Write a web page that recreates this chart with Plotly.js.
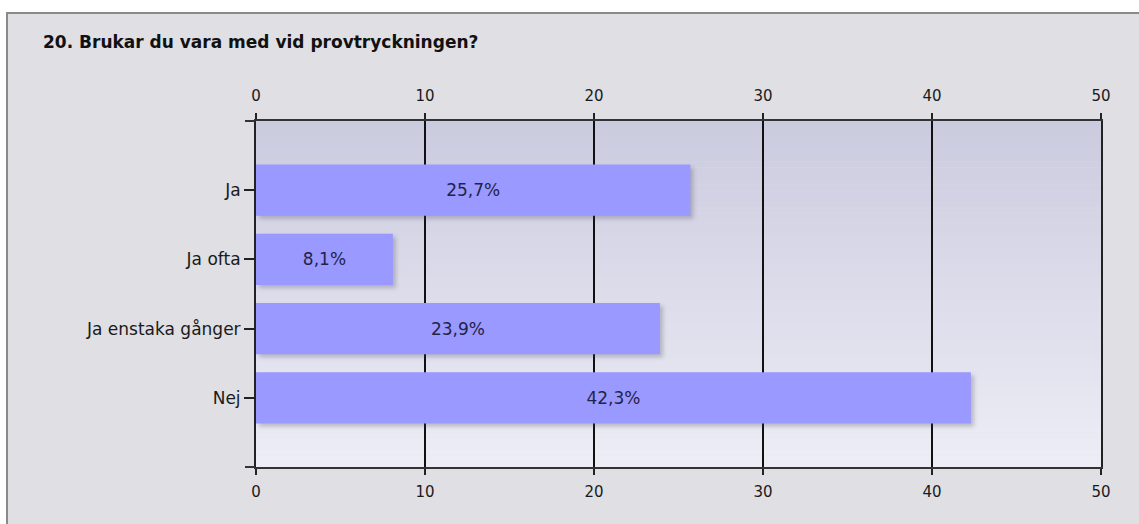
<!DOCTYPE html>
<html>
<head>
<meta charset="utf-8">
<script src="https://cdn.plot.ly/plotly-3.0.1.min.js"></script>
<style>
  html, body { margin: 0; padding: 0; background: #ffffff; }
  #wrap { position: relative; width: 1139px; height: 524px; overflow: hidden; }
  #frame { position: absolute; left: 6px; top: 12px; width: 1140px; height: 520px;
           background: #dfdfe4; border-left: 2px solid #8a8a8a; border-top: 2px solid #8a8a8a; }
  #chart { position: absolute; left: 0; top: 0; width: 1139px; height: 524px; }
  .trace.bars path { filter: drop-shadow(3px 3px 2px rgba(60,60,80,0.28)); }
</style>
</head>
<body>
<div id="wrap">
  <div id="frame"></div>
  <div id="chart"></div>
</div>
<script>
const titleText = "20. Brukar du vara med vid provtryckningen?";
const categories = ["Ja", "Ja ofta", "Ja enstaka gånger", "Nej"];
const percentValues = [25.7, 8.1, 23.9, 42.3];
const xTickValues = [0, 10, 20, 30, 40, 50];

const FONT = "DejaVu Sans, Verdana, sans-serif";

const bars = {
  type: "bar",
  orientation: "h",
  y: categories,
  x: percentValues,
  width: 0.74,
  marker: { color: "#9999ff", line: { width: 0 } },
  texttemplate: "%{x:.1f}%",
  textposition: "inside",
  insidetextanchor: "middle",
  constraintext: "none",
  textfont: { family: FONT, size: 17, color: "#23234a" },
  hoverinfo: "skip",
  showlegend: false
};

// background gradient bands for the plot area
const bgShapes = [];
const nBands = 60;
const gradTop = [203, 203, 223], gradBot = [237, 237, 246];
for (let i = 0; i < nBands; i++) {
  const t = i / (nBands - 1);
  const c = gradTop.map((v, k) => Math.round(v + (gradBot[k] - v) * t));
  bgShapes.push({
    type: "rect", xref: "x domain", yref: "y domain", layer: "below",
    x0: 0, x1: 1, y0: 1 - (i + 1) / nBands - 0.001, y1: 1 - i / nBands,
    fillcolor: `rgb(${c[0]},${c[1]},${c[2]})`, line: { width: 0 }
  });
}

const axisCommon = {
  range: [0, 50],
  tickvals: xTickValues,
  ticks: "outside",
  ticklen: 6,
  tickwidth: 2,
  tickcolor: "#222",
  showline: true,
  linecolor: "#333",
  linewidth: 2,
  tickfont: { family: FONT, size: 15, color: "#1a1a1a" },
  zeroline: false,
  fixedrange: true
};

const layout = {
  width: 1139,
  height: 524,
  margin: { l: 256, r: 38, t: 121, b: 57, pad: 0 },
  paper_bgcolor: "rgba(0,0,0,0)",
  plot_bgcolor: "rgba(0,0,0,0)",
  separators: ", ",
  title: {
    text: "<b>" + titleText + "</b>",
    font: { family: FONT, size: 17, color: "#111" },
    xref: "container", yref: "container",
    x: 43 / 1139, xanchor: "left",
    y: 1 - 42 / 524, yanchor: "middle"
  },
  xaxis: Object.assign({}, axisCommon, {
    side: "bottom",
    showgrid: true,
    gridcolor: "#111",
    gridwidth: 2,
    mirror: false,
    ticklabelstandoff: 4
  }),
  xaxis2: Object.assign({}, axisCommon, {
    side: "top",
    overlaying: "x",
    showgrid: false,
    ticklabelstandoff: 6
  }),
  yaxis: {
    type: "category",
    range: [4, -1],
    ticks: "outside",
    ticklen: 10,
    tickwidth: 2,
    tickcolor: "#222",
    showline: true,
    linecolor: "#222",
    linewidth: 2,
    mirror: true,
    showgrid: false,
    tickfont: { family: FONT, size: 17, color: "#1a1a1a" },
    fixedrange: true
  },
  yaxis2: {
    overlaying: "y",
    side: "left",
    range: [4, -1],
    tickvals: [-1, 4],
    ticks: "outside",
    ticklen: 10,
    tickwidth: 2,
    tickcolor: "#333",
    showticklabels: false,
    showgrid: false,
    zeroline: false,
    showline: false,
    fixedrange: true
  },
  shapes: bgShapes,
  bargap: 0.26
};

const dummyTop = {
  type: "scatter", x: [], y: [], xaxis: "x2", yaxis: "y2",
  showlegend: false, hoverinfo: "skip"
};

Plotly.newPlot("chart", [bars, dummyTop], layout, { displayModeBar: false, staticPlot: true });
</script>
</body>
</html>
